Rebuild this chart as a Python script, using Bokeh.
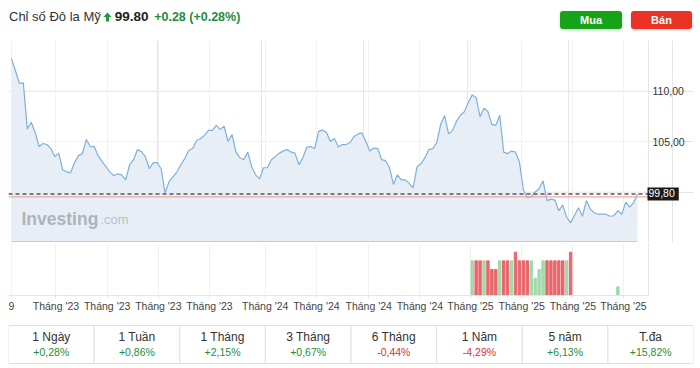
import pandas as pd
from bokeh.plotting import figure
from bokeh.models import (Range1d, FixedTicker, Span, Label, Div, ColumnDataSource,
                          FactorRange, Grid)
from bokeh.layouts import column
from bokeh.embed import file_html
from bokeh.resources import INLINE
from bokeh.core.properties import value

# ---------------- data ----------------
title = "Chỉ số Đô la Mỹ"
last_price = 99.80
prev_close = 99.52
change = 0.28
change_pct = 0.28

start_date = "2022-10-14"   # weekly closes
prices = [
    113.2, 112.0, 110.75, 110.8, 106.25, 106.9, 105.9, 104.5, 104.8, 104.7,
    104.3, 103.5, 103.85, 102.2, 102.0, 101.9, 102.9, 103.6, 103.8, 105.2,
    104.5, 104.5, 103.6, 103.0, 102.5, 102.0, 101.6, 101.8, 101.7, 101.2,
    102.7, 103.2, 104.2, 104.0, 103.5, 102.3, 102.9, 102.9, 102.3, 99.9,
    101.0, 101.5, 102.0, 102.7, 103.3, 104.1, 104.3, 105.1, 105.3, 105.6,
    106.1, 106.1, 106.6, 106.2, 106.5, 105.0, 105.7,
    103.95, 103.4, 103.2, 103.95, 102.5, 101.7, 101.3, 102.4, 102.4, 103.2,
    103.5, 103.85, 104.05, 104.2, 103.95, 103.85, 102.7, 103.4, 104.45, 104.5,
    104.3, 106.0, 106.15, 105.9, 105.0, 105.3, 104.45, 104.7, 104.7, 104.9,
    105.5, 105.75, 105.85, 105.0, 104.05, 104.35, 104.3, 103.2, 103.1, 102.4,
    100.75, 101.7, 101.2, 101.2, 100.85, 100.4, 102.5, 102.8, 103.4, 104.2,
    104.3, 104.9, 106.7, 107.55, 105.75, 106.1, 107.0, 107.6, 107.95, 108.85,
    109.6, 109.35, 107.45, 108.3, 107.95, 106.7, 106.6, 107.6, 103.95, 103.8,
    104.05, 103.95, 102.95, 100.2, 99.45, 99.55, 100.0, 100.35, 101.1, 99.15,
    99.3, 99.2, 98.15, 98.7, 97.5, 96.95, 97.7, 98.45, 97.6, 99.15,
    98.3, 97.95, 97.8, 97.8, 97.8, 97.6, 97.65, 98.15, 97.8, 99.0,
    98.5, 98.95, 99.8,
]

volume_first_week = 117
volume = [4, 4, 4, 4, 4, 3, 3, 4, 4, 4, 4, 5, 4, 4, 4, 4, 2, 3, 4, 4, 4, 4, 4, 4, 4, 5]
volume_dir = "GRRGRRRGRRGRRRRGGGGRRRRRGR"
late_volume_week = 154
late_volume = 1
late_volume_dir = "G"

tick_dates = ["2022-10-14", "2023-01-01", "2023-04-02", "2023-07-02", "2023-10-01",
              "2024-01-08", "2024-04-08", "2024-07-10", "2024-10-09",
              "2025-01-07", "2025-04-08", "2025-07-08", "2025-10-06"]
tick_labels = ["9", "Tháng '23", "Tháng '23", "Tháng '23", "Tháng '23",
               "Tháng '24", "Tháng '24", "Tháng '24", "Tháng '24",
               "Tháng '25", "Tháng '25", "Tháng '25", "Tháng '25"]

y_ticks = [105, 110]
y_tick_labels = ["105,00", "110,00"]
y_grid = [100, 105, 110]

periods = ["1 Ngày", "1 Tuần", "1 Tháng", "3 Tháng", "6 Tháng", "1 Năm", "5 năm", "T.đa"]
period_changes = [0.28, 0.86, 2.15, 0.67, -0.44, -4.29, 6.13, 15.82]

# ---------------- styles / layout helpers ----------------
AX_FONT = "Liberation Sans"
UP = "#1e8e3e"
DOWN = "#e0312b"
GRID = "#f1f1f1"
AXLINE = "#e4e4e4"
DAY = pd.Timedelta(days=1)
BASE = 95.1
W = 700
BL, BR = 8, 7            # frame spans x = 8 .. 693 on the page
PX_PER_DAY = 0.5625
X0_PX = 11               # page x of the first weekly close

N = len(prices)
t0 = pd.Timestamp(start_date)
dates = pd.date_range(start_date, periods=N, freq="7D")

def at_px(px):
    return t0 + (px - X0_PX) / PX_PER_DAY * DAY

def ms(ts):
    return int(pd.Timestamp(ts).value // 10**6)

x_start = at_px(BL)
x_end = at_px(W - BR)
x_axis = at_px(648)          # right price-axis line
tick_ms = [ms(d) for d in tick_dates]

# ---------------- header ----------------
def fmt_pct(v):
    return f"{v:+.2f}".replace(".", ",") + "%"

arrow_svg = ('<svg width="9" height="10" viewBox="0 0 9 10" style="vertical-align:-1px;margin:0 3px 0 2px;">'
             '<path d="M4.5 0.5 L8.6 5 L6 5 L6 9.5 L3 9.5 L3 5 L0.4 5 Z" fill="#1f9a3d"/></svg>')

header_html = f"""
<div style="position:relative;width:{W}px;height:38px;font-family:'Liberation Sans',Arial,sans-serif;">
  <div style="position:absolute;left:9px;top:8px;white-space:nowrap;font-size:13px;line-height:18px;color:#333;">
    {title}{arrow_svg}<b style="color:#222;font-size:13.5px;">{last_price:.2f}</b>
    <span style="color:{UP};font-weight:bold;font-size:12.5px;margin-left:2px;">{change:+.2f} ({change_pct:+.2f}%)</span>
  </div>
  <div style="position:absolute;left:560px;top:11px;width:62px;height:18px;background:#17a318;border-radius:3px;
       color:#fff;font-weight:bold;font-size:11px;text-align:center;line-height:18px;box-shadow:0 1px 3px rgba(0,0,0,0.18);">Mua</div>
  <div style="position:absolute;left:631px;top:11px;width:61px;height:18px;background:#ea3325;border-radius:3px;
       color:#fff;font-weight:bold;font-size:11px;text-align:center;line-height:18px;box-shadow:0 1px 3px rgba(0,0,0,0.18);">Bán</div>
</div>
"""
header = Div(text=header_html, width=W, height=38, margin=(0, 0, 0, 0))

# ---------------- main price chart ----------------
src = ColumnDataSource(dict(date=dates, price=prices, base=[BASE] * N))

p = figure(width=W, height=205, x_axis_type="datetime", x_axis_location=None,
           y_axis_location=None, x_range=Range1d(x_start, x_end),
           y_range=Range1d(95.0, 115.0), output_backend="svg", toolbar_location=None,
           min_border_left=BL, min_border_right=BR, min_border_top=2, min_border_bottom=1)
p.outline_line_color = None
p.add_layout(Grid(dimension=0, ticker=FixedTicker(ticks=tick_ms), grid_line_color=GRID))

# horizontal grid lines, stopping at the price axis
p.segment(x0=[x_start] * len(y_grid), x1=[x_axis] * len(y_grid), y0=y_grid, y1=y_grid,
          line_color=GRID, line_width=1)
p.add_layout(Span(location=ms(x_axis), dimension="height", line_color=AXLINE, line_width=1))

p.varea(x="date", y1="base", y2="price", source=src, fill_color="#e8eef6")
p.line(x=[dates[0], dates[-1]], y=[BASE, BASE], line_color="#c8cdd5", line_width=1)
p.line(x="date", y="price", source=src, line_color="#7fb0dc", line_width=1.2)

p.segment(x0=x_start, x1=x_axis, y0=prev_close, y1=prev_close, line_color="#f3a3a3", line_width=1.2)
p.segment(x0=x_start, x1=x_axis, y0=last_price, y1=last_price, line_color="#555555",
          line_dash="4 3", line_width=1.3)

# price-axis labels
p.text(x=[at_px(652)] * len(y_ticks), y=y_ticks, text=y_tick_labels, text_align="left",
       text_baseline="middle", text_font=value(AX_FONT), text_font_size="10.5px",
       text_color="#333333")

p.add_layout(Label(x=at_px(21), y=97.3, text="Investing", text_font="Liberation Sans",
                   text_font_style="bold", text_font_size="17.5px", text_color="#9c9ea3",
                   text_alpha=0.75, text_baseline="alphabetic"))
p.add_layout(Label(x=at_px(100), y=97.3, text=".com", text_font="Liberation Sans",
                   text_font_size="13px", text_color="#b0b2b6", text_alpha=0.8,
                   text_baseline="alphabetic"))

p.add_layout(Label(x=at_px(647), y=last_price,
                   text=f"{last_price:.2f}".replace(".", ","),
                   text_font=AX_FONT, text_font_size="10.5px", text_color="white",
                   text_baseline="middle", text_align="left", background_fill_color="#1a1a1a",
                   padding=(1, 4, 1, 4)))

# ---------------- volume ----------------
v_idx = list(range(volume_first_week, volume_first_week + len(volume))) + [late_volume_week]
v_vals = volume + [late_volume]
v_dirs = list(volume_dir) + [late_volume_dir]
vsrc = ColumnDataSource(dict(
    date=[dates[i] for i in v_idx], vol=v_vals,
    color=["#a3d8ad" if d == "G" else "#e8676b" for d in v_dirs]))

v = figure(width=W, height=75, x_axis_type="datetime", x_range=p.x_range,
           y_range=Range1d(0, 6), y_axis_location=None, output_backend="svg",
           toolbar_location=None, min_border_left=BL, min_border_right=BR,
           min_border_top=0, min_border_bottom=23)
v.outline_line_color = None
v.vbar(x="date", top="vol", width=4.3 * 86400000, color="color", source=vsrc)
v.add_layout(Span(location=ms(x_axis), dimension="height", line_color=AXLINE, line_width=1))

v.xgrid.ticker = FixedTicker(ticks=tick_ms)
v.xgrid.grid_line_color = GRID
v.ygrid.grid_line_color = None

xa = v.xaxis[0]
xa.ticker = FixedTicker(ticks=tick_ms)
xa.bounds = (ms(x_start), ms(x_axis))
xa.major_label_overrides = {t: l for t, l in zip(tick_ms, tick_labels)}
xa.axis_line_color = AXLINE
xa.major_tick_line_color = AXLINE
xa.major_tick_out = 3
xa.major_tick_in = 0
xa.minor_tick_line_color = None
xa.major_label_standoff = 1
xa.major_label_text_font = AX_FONT
xa.major_label_text_font_size = "10.5px"
xa.major_label_text_color = "#444444"

# ---------------- period performance table ----------------
tsrc = ColumnDataSource(dict(
    period=periods,
    change=[fmt_pct(c) for c in period_changes],
    color=[UP if c >= 0 else DOWN for c in period_changes]))

t = figure(width=W, height=49, x_range=FactorRange(*periods), y_range=Range1d(0, 49),
           x_axis_location=None, y_axis_location=None, output_backend="svg",
           toolbar_location=None, min_border_left=BL, min_border_right=BR,
           min_border_top=0, min_border_bottom=0)
t.outline_line_color = None
t.xgrid.grid_line_color = None
t.ygrid.grid_line_color = None
t.rect(x="period", y=23.0, width=1, height=38, source=tsrc, fill_color="white",
       line_color="#e0e0e0", line_width=1)
t.text(x="period", y=30.5, text="period", source=tsrc, text_align="center",
       text_baseline="middle", text_font=value("Liberation Sans"), text_font_size="12px",
       text_color="#333333")
t.text(x="period", y=15.5, text="change", source=tsrc, text_align="center",
       text_baseline="middle", text_font=value("Liberation Sans"), text_font_size="10.5px",
       text_color="color")

layout = column(header, p, v, t, spacing=0)
open("out.html", "w").write(file_html(layout, INLINE))
